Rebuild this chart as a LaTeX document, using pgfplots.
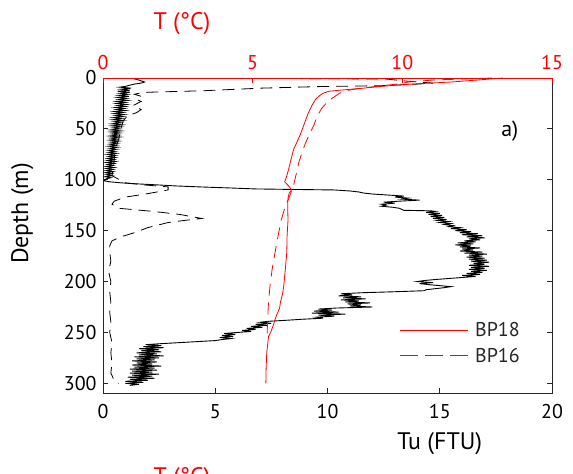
\documentclass[border=0pt]{standalone}
\usepackage{fontspec}
\setmainfont{PT Sans}
\usepackage{pgfplots}
\pgfplotsset{compat=1.18}
\definecolor{tred}{RGB}{255,0,0}
\begin{document}
\begin{tikzpicture}
\begin{axis}[name=ax, scale only axis, width=449bp, height=315bp,
  xmin=0, xmax=20, ymin=0, ymax=309.5, y dir=reverse,
  xtick={0,5,10,15,20}, ytick={0,50,...,300},
  xtick pos=bottom, ytick pos=both, tick align=inside,
  major tick length=5bp,
  /pgf/number format/assume math mode=true,
  tick label style={font=\fontsize{20}{24}\selectfont},
  xticklabel style={yshift=-8bp},
  yticklabel style={xshift=-3bp},
  axis line style={line width=0.8pt, black!85},
  tick style={line width=0.8pt, black!85},
  xlabel={Tu (FTU)},
  xlabel style={at={(axis description cs:0.75,-0.16)}, anchor=center, font=\fontsize{24}{28}\selectfont},
  ylabel={Depth (m)},
  ylabel style={at={(axis description cs:-0.18,0.57)}, anchor=center, font=\fontsize{24}{28}\selectfont},
]
% BP18 turbidity (solid)
\addplot[black, line width=0.9pt, forget plot] coordinates {
(1.25,0) (1.6,2) (1.85,4) (1.7,5) (1.4,6) (1.2,7) (1.05,8) (0.75,9) (1.25,10) (0.8,11) (1.2,12) (0.65,13) (1.2,14) (0.75,15)
(1.1,16) (0.7,17) (1.15,18) (0.65,19) (1.05,20) (0.7,21) (1.1,22) (0.6,23) (1.0,24) (0.6,25) (1.05,26) (0.65,27)
(1.0,28) (0.55,29) (0.95,30) (0.6,31) (1.0,32) (0.5,33) (0.9,34) (0.5,35) (0.95,36) (0.55,37) (0.9,38) (0.45,39)
(0.85,40) (0.45,41) (0.9,42) (0.5,43) (0.8,44) (0.4,45) (0.85,46) (0.4,47) (0.8,48) (0.45,49) (0.75,50) (0.35,51)
(0.8,52) (0.35,53) (0.75,54) (0.4,55) (0.7,56) (0.3,57) (0.75,58) (0.35,59) (0.65,60) (0.3,61) (0.7,62) (0.35,63)
(0.65,64) (0.3,65) (0.6,66) (0.25,67) (0.65,68) (0.3,69) (0.6,70) (0.25,71) (0.55,72) (0.25,73) (0.6,74) (0.2,75)
(0.55,76) (0.25,77) (0.55,78) (0.2,79) (0.5,80) (0.2,81) (0.55,82) (0.15,83) (0.5,84) (0.2,85) (0.45,86) (0.15,87)
(0.5,88) (0.15,89) (0.45,90) (0.15,91) (0.45,92) (0.1,93) (0.4,94) (0.15,95) (0.4,96) (0.1,97) (0.35,98) (0.15,99)
(0.1,100) (0.05,101) (0.3,102) (0.8,103) (1.5,104) (2.4,105) (3.2,106) (4.3,107) (5.6,108) (6.8,109) (8.5,109.5)
(10.3,110) (11.0,111) (11.4,112) (11.6,113) (12.0,114) (12.7,115) (13.4,116) (13.0,117) (13.6,118) (13.3,119)
(14.1,120) (13.2,121) (12.5,122) (13.0,123) (12.4,124) (12.6,125) (12.4,126) (12.9,127) (13.2,128) (13.3,129)
(13.4,130) (14.6,130.5) (14.8,131) (14.4,132) (15.0,133) (14.5,134) (15.1,135) (14.6,136) (15.2,137) (14.7,138)
(15.3,139) (14.9,140) (15.4,141) (15.0,142) (15.5,143) (15.2,144) (15.6,145) (15.4,146) (15.9,147) (15.5,148)
(16.2,149) (15.7,150) (16.4,151) (15.9,152) (16.7,153) (16.0,154) (16.9,155) (16.2,156) (17.0,157) (16.3,158)
(16.8,159) (16.1,160) (16.6,161) (15.8,162) (16.5,163) (15.7,164) (16.4,165) (15.9,166) (16.8,167) (16.0,168)
(16.5,169) (15.9,170) (16.9,171) (16.1,172) (17.1,173) (16.3,174) (16.9,175) (16.2,176) (17.0,177) (16.3,178)
(17.1,179) (16.4,180) (17.2,181) (16.5,182) (17.0,183) (16.3,184) (17.2,185) (16.4,186) (17.0,187) (16.3,188)
(17.1,189) (16.4,190) (16.9,191) (16.2,192) (16.8,193) (16.0,194) (16.6,195) (16.0,196) (15.4,197) (14.8,198)
(14.3,199) (14.0,200) (14.7,201) (14.1,202) (14.5,203) (15.0,204) (15.5,205) (15.2,206) (14.8,207) (14.4,208)
(14.3,209) (13.0,210) (11.5,211) (10.6,212) (11.1,213) (10.5,214) (11.5,215) (10.7,216) (11.7,217) (10.6,218)
(11.4,219) (10.8,220) (11.9,221) (10.9,222) (11.5,223) (11.0,224) (12.0,225) (10.4,226) (9.6,227) (10.2,228)
(9.4,229) (10.5,230) (9.3,231) (10.8,232) (9.6,233) (10.3,234) (9.5,235) (9.8,236) (8.9,237) (8.2,238) (7.4,239)
(7.0,240) (7.5,241) (6.8,242) (7.3,243) (6.6,244) (7.1,245) (6.4,246) (6.8,247) (6.2,248) (6.6,249) (6.0,250)
(5.4,251) (5.9,252) (5.3,253) (5.8,254) (5.2,255) (5.7,256) (5.3,257) (5.0,258) (4.2,259) (3.4,260) (2.6,261)
(1.9,262) (2.6,263) (1.8,264) (2.7,265) (1.6,266) (2.5,267) (1.7,268) (2.6,269) (1.5,270) (2.4,271) (1.6,272)
(2.7,273) (1.4,274) (2.5,275) (1.5,276) (2.3,277) (1.3,278) (2.4,279) (1.5,280) (2.2,281) (1.3,282) (2.6,283)
(1.4,284) (2.3,285) (1.2,286) (2.4,287) (1.3,288) (2.2,289) (1.2,290) (2.5,291) (1.3,292) (2.2,293) (1.1,294)
(2.3,295) (1.2,296) (2.0,297) (1.0,298) (1.8,299) (1.0,300) (1.6,301) (1.2,302)
};
% BP16 turbidity (dashed)
\addplot[black, line width=0.8pt, dash pattern=on 12bp off 7bp, forget plot] coordinates {
(4.1,0.5) (8,0.5) (12.6,1) (13.5,3) (14.7,5) (14.0,6) (12.5,7.5) (9.5,8.5) (7,10) (4.5,12.5) (2.0,14)
(1.6,15) (1.4,16) (1.7,18) (1.5,21) (1.7,23) (1.35,27) (1.7,31) (1.5,34) (1.1,37) (0.9,42) (0.8,50) (0.7,60)
(0.55,70) (0.5,80) (0.45,90) (0.4,96) (1.0,103) (1.8,105) (2.9,107) (2.9,110) (1.9,114) (1.0,117) (0.5,121)
(0.4,124) (0.7,128) (2.2,131) (3.4,134) (4.4,138) (3.6,140) (2.9,142) (2.0,147) (1.4,152) (0.8,156) (0.4,160)
(0.3,165) (0.3,171) (0.35,180) (0.25,190) (0.35,200) (0.3,210) (0.35,220) (0.3,230) (0.35,240) (0.3,250)
(0.4,260) (0.35,270) (0.4,280) (0.35,290) (0.5,297) (0.7,300)
};
\node[font=\fontsize{22}{26}\selectfont] at (axis description cs:0.906,0.832) {a)};
\node[anchor=west, inner sep=0pt, text=black!85, font=\fontsize{20}{24}\selectfont] at (axis cs:16.57,247.6) {BP18};
\node[anchor=west, inner sep=0pt, text=black!85, font=\fontsize{20}{24}\selectfont] at (axis cs:16.57,272.2) {BP16};
\end{axis}
\begin{axis}[scale only axis, width=449bp, height=315bp,
  xmin=0, xmax=15, ymin=0, ymax=309.5, y dir=reverse,
  axis x line*=top, axis y line=none,
  xtick={0,5,10,15}, tick align=inside, major tick length=5bp,
  /pgf/number format/assume math mode=true,
  tick label style={font=\fontsize{20}{24}\selectfont, text=tred},
  xticklabel style={yshift=5bp},
  axis line style={line width=0.8pt, tred},
  tick style={line width=0.8pt, tred},
]
% legend keys
\addplot[color=tred, line width=0.8pt, forget plot] coordinates {(9.92,247.6) (12.19,247.6)};
\addplot[color=tred, line width=0.8pt, forget plot] coordinates {(9.92,272.2) (10.52,272.2)};
\addplot[color=tred, line width=0.8pt, forget plot] coordinates {(10.76,272.2) (11.36,272.2)};
\addplot[color=tred, line width=0.8pt, forget plot] coordinates {(11.59,272.2) (12.19,272.2)};
% BP18 temperature
\addplot[color=tred, line width=0.8pt, forget plot] coordinates {
(13.36,0) (12.5,2) (11.6,4) (10.6,5.5) (9.8,7) (9.2,8.5) (8.7,10) (8.1,11.5) (7.55,13) (7.35,15) (7.25,17) (7.1,21)
(6.98,27) (6.85,35) (6.75,43) (6.6,55) (6.45,65) (6.37,70) (6.28,80) (6.2,90) (6.12,98) (6.07,102) (6.2,106)
(6.3,110) (6.22,113) (6.18,118) (6.17,125) (6.18,140) (6.15,155) (6.14,171) (6.1,185) (6.04,204) (6.0,212)
(5.93,220) (5.9,226) (5.8,233) (5.75,237) (5.7,242) (5.6,250) (5.53,254) (5.5,262) (5.47,270) (5.45,285) (5.44,300)
};
% BP16 temperature
\addplot[color=tred, line width=0.8pt, dash pattern=on 12bp off 7bp, forget plot] coordinates {
(13.0,0) (12.0,1) (11.0,2) (10.2,4) (9.8,6) (9.2,8) (8.6,10) (8.2,12) (7.9,15) (7.65,20) (7.45,25) (7.3,30)
(7.15,38) (7.05,46) (6.9,55) (6.75,65) (6.55,82) (6.45,95) (6.37,105) (6.25,115) (6.07,128) (5.95,140)
(5.85,155) (5.75,171) (5.65,188) (5.58,204) (5.53,220) (5.5,237) (5.48,254)
};
\end{axis}
\node[text=tred, font=\fontsize{24}{28}\selectfont] at ([xshift=79bp, yshift=54bp]ax.north west) {T (°C)};
\node[text=tred, font=\fontsize{24}{28}\selectfont, anchor=north, inner sep=0pt] at ([xshift=79bp, yshift=-74bp]ax.south west) {T (°C)};
\pgfresetboundingbox
\path[use as bounding box] ([xshift=-103bp,yshift=-81bp]ax.south west) rectangle ([xshift=21bp,yshift=78bp]ax.north east);
\end{tikzpicture}
\end{document}
